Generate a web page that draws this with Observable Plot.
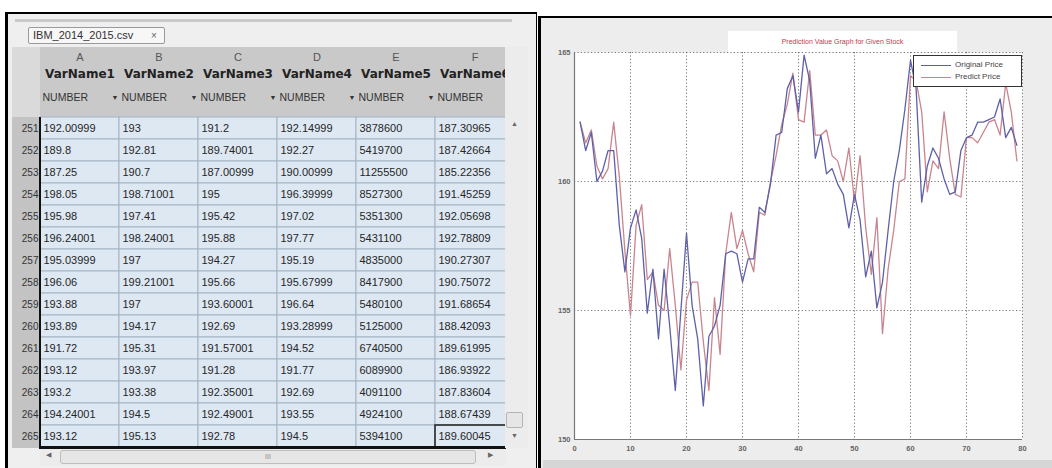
<!DOCTYPE html>
<html><head><meta charset="utf-8">
<script src="https://cdn.jsdelivr.net/npm/d3@7"></script>
<script src="https://cdn.jsdelivr.net/npm/@observablehq/plot@0.6"></script>
<style>
body{margin:0;width:1052px;height:468px;overflow:hidden;background:#fff;position:relative;font-family:"Liberation Sans",Arial,sans-serif}
.abs{position:absolute;box-sizing:border-box}
</style></head><body>
<!-- left panel decorations -->
<div class="abs" style="left:5px;top:12px;width:532px;height:470px;background:#efefef;border-left:3px solid #000;border-top:2px solid #000;border-right:1.5px solid #000"></div>
<div class="abs" style="left:15px;top:19px;width:497px;height:3px;background:#c9c9c9"></div>
<div class="abs" style="left:28px;top:27px;width:137px;height:17px;background:#f7f7f7;border:1px solid #9a9a9a;border-radius:2px;font-size:11px;color:#333;line-height:15px;padding-left:4px">IBM_2014_2015.csv<span style="position:absolute;left:122px;top:0;color:#666;font-size:10px">×</span></div>
<div class="abs" style="left:12px;top:47px;width:28px;height:70px;background:#dadada"></div>
<div class="abs" style="left:40px;top:47px;width:466px;height:70px;background:#c9c9c9"></div>
<div class="abs" style="left:12px;top:117px;width:28px;height:331px;background:#c3c3c3"></div>
<div id="table" class="abs" style="left:0;top:0"></div>
<div class="abs" style="left:38.5px;top:117px;width:2.5px;height:332px;background:#111"></div>
<div class="abs" style="left:40px;top:446px;width:466px;height:2.5px;background:#111"></div>
<div class="abs" style="left:505px;top:47px;width:23px;height:401px;background:#ececec"></div>
<div class="abs" style="left:511px;top:120px;font-size:7px;color:#666">▲</div>
<div class="abs" style="left:506px;top:412px;width:17px;height:16px;background:#e6e6e6;border:1px solid #b4b4b4;border-radius:2px"></div>
<div class="abs" style="left:511px;top:432px;font-size:7px;color:#666">▼</div>
<div class="abs" style="left:40px;top:449px;width:466px;height:16px;background:#ececec"></div>
<div class="abs" style="left:46px;top:451px;font-size:7px;color:#666">◀</div>
<div class="abs" style="left:60px;top:450px;width:416px;height:14px;background:#e6e6e6;border:1px solid #bdbdbd;border-radius:3px;text-align:center;font-size:7px;color:#888;line-height:12px">III</div>
<div class="abs" style="left:488px;top:451px;font-size:7px;color:#666">▶</div>
<!-- right panel decorations -->
<div class="abs" style="left:538px;top:16px;width:514px;height:452px;background:#ededed;border-left:3px solid #000;border-top:2px solid #000"></div>
<div class="abs" style="left:543px;top:460px;width:509px;height:8px;background:#d6d6d6"></div>
<div id="chart" class="abs" style="left:540px;top:19px"></div>
<div class="abs" style="left:728px;top:31px;width:229px;height:21px;background:#fff;text-align:center;font-size:7px;color:#c23a4e;line-height:21px">Prediction Value Graph for Given Stock</div>
<div class="abs" style="left:913px;top:55px;width:109px;height:32px;background:#fff;border:1px solid #333;font-size:8px;color:#444">
  <div class="abs" style="left:7px;top:9px;width:30px;height:1.3px;background:#5e60a8"></div>
  <div class="abs" style="left:41px;top:4px;line-height:10px">Original Price</div>
  <div class="abs" style="left:7px;top:21px;width:30px;height:1.3px;background:#c9858f"></div>
  <div class="abs" style="left:41px;top:16px;line-height:10px">Predict Price</div>
</div>
<script>
// ---------- table data ----------
const columnLetters = ["A", "B", "C", "D", "E", "F"];
const varNames = ["VarName1", "VarName2", "VarName3", "VarName4", "VarName5", "VarName6"];
const typeLabels = ["NUMBER", "NUMBER", "NUMBER", "NUMBER", "NUMBER", "NUMBER"];
const rowNumbers = [251, 252, 253, 254, 255, 256, 257, 258, 259, 260, 261, 262, 263, 264, 265];
const colA = ["192.00999","189.8","187.25","198.05","195.98","196.24001","195.03999","196.06","193.88","193.89","191.72","193.12","193.2","194.24001","193.12"];
const colB = ["193","192.81","190.7","198.71001","197.41","198.24001","197","199.21001","197","194.17","195.31","193.97","193.38","194.5","195.13"];
const colC = ["191.2","189.74001","187.00999","195","195.42","195.88","194.27","195.66","193.60001","192.69","191.57001","191.28","192.35001","192.49001","192.78"];
const colD = ["192.14999","192.27","190.00999","196.39999","197.02","197.77","195.19","195.67999","196.64","193.28999","194.52","191.77","192.69","193.55","194.5"];
const colE = ["3878600","5419700","11255500","8527300","5351300","5431100","4835000","8417900","5480100","5125000","6740500","6089900","4091100","4924100","5394100"];
const colF = ["187.30965","187.42664","185.22356","191.45259","192.05698","192.78809","190.27307","190.75072","191.68654","188.42093","189.61995","186.93922","187.83604","188.67439","189.60045"];

// ---------- chart data ----------
const xTicks = [0, 10, 20, 30, 40, 50, 60, 70, 80];
const yTicks = [150, 155, 160, 165];
const original = [162.3,161.2,161.9,160.0,160.4,161.2,161.2,158.3,156.5,158.2,158.9,157.8,154.9,156.6,153.9,156.6,154.4,151.9,155.0,158.0,
  155.2,153.9,151.3,154.0,154.4,155.2,157.2,157.3,157.2,156.1,157.0,157.0,159.0,158.8,159.9,161.8,161.9,163.6,164.1,162.7,
  164.9,163.9,160.9,161.8,160.3,160.5,159.9,159.5,158.2,159.5,158.5,156.3,157.3,155.1,156.1,158.1,160.0,161.2,162.8,164.7,
  163.6,159.2,160.6,161.3,160.9,160.1,159.5,159.6,161.2,161.7,161.8,162.3,162.3,162.4,162.5,163.2,161.7,162.1,161.4];
const predicted = [162.3,161.5,162.0,160.6,160.1,160.5,162.3,160.2,157.3,154.8,158.3,159.1,156.2,156.5,155.2,155.0,157.4,155.2,152.7,155.4,
  156.1,156.1,153.8,151.9,155.5,153.3,157.2,158.8,157.4,158.1,157.2,156.5,158.8,158.7,160.0,161.0,162.2,163.0,164.2,162.4,
  162.3,164.3,161.8,161.8,162.0,161.0,160.8,160.0,161.3,159.2,161.0,158.2,156.4,158.6,154.1,156.6,158.1,160.0,160.1,164.1,
  163.9,162.7,159.6,160.8,160.5,162.7,160.9,159.5,159.4,161.7,161.7,161.5,161.9,162.3,162.4,161.8,163.8,162.7,160.8];

// ---------- table ----------
const hdrRows = ["hL", "hN", "hT"];
const yDomain = [...hdrRows, ...rowNumbers.map(String)];
const columns = [colA, colB, colC, colD, colE, colF];
const body = columnLetters.flatMap((c, j) => rowNumbers.map((r, i) => ({col: c, row: String(r), value: columns[j][i]})));
const headerCells = columnLetters.flatMap(c => hdrRows.map(h => ({col: c, row: h})));
const colW = 79;
const table = Plot.plot({
  width: 535, height: 468,
  marginLeft: 40, marginRight: 21, marginTop: 51, marginBottom: 21,
  x: {domain: columnLetters, padding: 0, axis: null},
  y: {domain: yDomain, padding: 0, axis: null},
  style: {background: "transparent", fontFamily: "Liberation Sans, Arial, sans-serif"},
  marks: [
    Plot.cell(headerCells, {x: "col", y: "row", fill: "#c9c9c9"}),
    Plot.cell(body, {x: "col", y: "row", fill: "#dde8f3", stroke: "#a4b3c3", strokeWidth: 1}),
    Plot.text(columnLetters, {x: d => d, y: () => "hL", text: d => d, fontSize: 11, fill: "#555", dy: -5}),
    Plot.text(varNames, {x: (d, i) => columnLetters[i], y: () => "hN", text: d => d, fontWeight: "bold", fontSize: 12, fontFamily: "DejaVu Sans", fill: "#222", dy: -10}),
    Plot.text(typeLabels, {x: (d, i) => columnLetters[i], y: () => "hT", text: d => d, textAnchor: "start", dx: -colW / 2 + 2, fontSize: 10.5, fill: "#333", dy: -9}),
    Plot.text(typeLabels, {x: (d, i) => columnLetters[i], y: () => "hT", text: () => "▼", textAnchor: "end", dx: colW / 2 - 1, fontSize: 7, fill: "#333", dy: -9}),
    Plot.text(body, {x: "col", y: "row", text: "value", textAnchor: "start", dx: -colW / 2 + 3, fontSize: 11, fill: "#262626"}),
    Plot.axisY(rowNumbers.map(String), {anchor: "left", label: null, tickSize: 0, tickPadding: 2, fontSize: 10, fill: "#333"}),
    Plot.cell([{col: "F", row: "265"}], {x: "col", y: "row", fill: "none", stroke: "#222", strokeWidth: 1.5})
  ]
});
document.getElementById("table").appendChild(table);

// ---------- chart ----------
const chart = Plot.plot({
  width: 512, height: 449,
  marginLeft: 34, marginRight: 30, marginTop: 33, marginBottom: 29,
  x: {domain: [0, 80]},
  y: {domain: [150, 165]},
  style: {background: "transparent", fontFamily: "Liberation Sans, Arial, sans-serif"},
  marks: [
    Plot.frame({fill: "#fff", stroke: null}),
    Plot.gridX({ticks: xTicks.slice(1), stroke: "#555", strokeOpacity: 0.8, strokeDasharray: "1.2,2.2"}),
    Plot.gridY({ticks: yTicks.slice(1), stroke: "#555", strokeOpacity: 0.8, strokeDasharray: "1.2,2.2"}),
    Plot.ruleX([xTicks[0]], {stroke: "#777", strokeWidth: 1.2}),
    Plot.ruleY([yTicks[0]], {stroke: "#777", strokeWidth: 1.2}),
    Plot.axisX({ticks: xTicks, label: null, tickSize: 0, tickPadding: 6, fontSize: 7.5, fill: "#666", fontWeight: "bold"}),
    Plot.axisY({ticks: yTicks, label: null, tickSize: 0, tickPadding: 4, fontSize: 7.5, fill: "#666", fontWeight: "bold"}),
    Plot.line(predicted, {x: (d, i) => i + 1, y: d => d, stroke: "#c9858f", strokeWidth: 1.3}),
    Plot.line(original, {x: (d, i) => i + 1, y: d => d, stroke: "#5e60a8", strokeWidth: 1.3})
  ]
});
document.getElementById("chart").appendChild(chart);
</script>
</body></html>
